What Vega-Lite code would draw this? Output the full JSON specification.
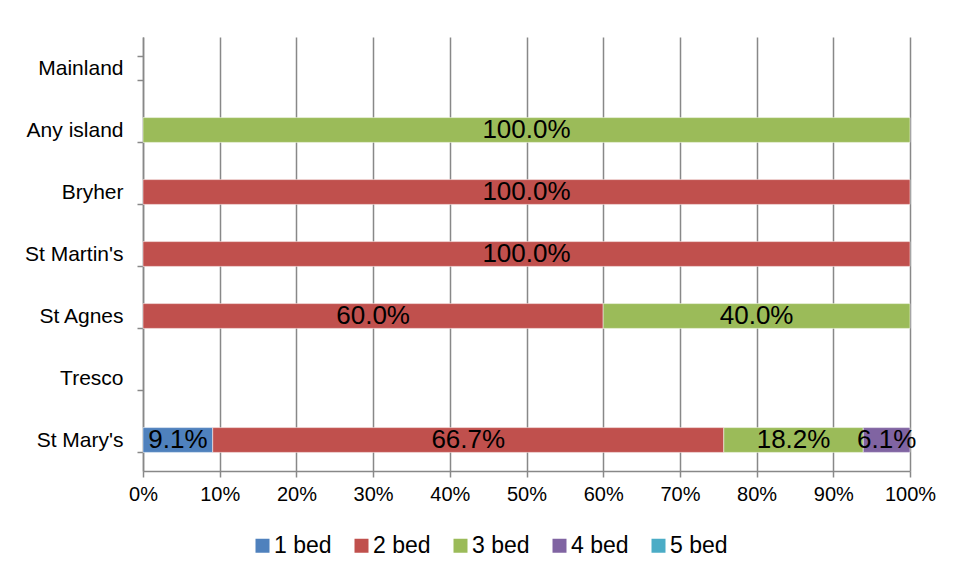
{
  "$schema": "https://vega.github.io/schema/vega-lite/v6.json",
  "width": 767,
  "height": 434,
  "autosize": {"type": "none"},
  "padding": {"left": 143, "top": 37, "right": 43, "bottom": 108},
  "background": "white",
  "config": {
    "font": "Liberation Sans",
    "view": {"stroke": null}
  },
  "data": {
    "values": [
      {"place": "St Mary's", "bed": "1 bed", "share": 0.091},
      {"place": "St Mary's", "bed": "2 bed", "share": 0.667},
      {"place": "St Mary's", "bed": "3 bed", "share": 0.182},
      {"place": "St Mary's", "bed": "4 bed", "share": 0.061},
      {"place": "St Agnes", "bed": "2 bed", "share": 0.6},
      {"place": "St Agnes", "bed": "3 bed", "share": 0.4},
      {"place": "St Martin's", "bed": "2 bed", "share": 1.0},
      {"place": "Bryher", "bed": "2 bed", "share": 1.0},
      {"place": "Any island", "bed": "3 bed", "share": 1.0}
    ]
  },
  "transform": [
    {"stack": "share", "groupby": ["place"], "sort": [{"field": "bed", "order": "ascending"}], "offset": "normalize", "as": ["p0", "p1"]},
    {"calculate": "(datum.p0 + datum.p1) / 2", "as": "pm"}
  ],
  "encoding": {
    "y": {
      "field": "place",
      "type": "nominal",
      "title": null,
      "scale": {
        "domain": ["Mainland", "Any island", "Bryher", "St Martin's", "St Agnes", "Tresco", "St Mary's"],
        "paddingInner": 0.6,
        "paddingOuter": 0.3
      },
      "axis": {
        "tickBand": "extent",
        "domainColor": "#888888",
        "domainWidth": 1.5,
        "tickColor": "#888888",
        "tickWidth": 1.5,
        "tickSize": 6,
        "labelFontSize": 21,
        "labelColor": "#000000",
        "labelPadding": 14,
        "grid": false
      }
    }
  },
  "layer": [
    {
      "mark": {"type": "bar", "stroke": "white", "strokeWidth": 0.5},
      "encoding": {
        "x": {
          "field": "p0",
          "type": "quantitative",
          "title": null,
          "scale": {"domain": [0, 1], "nice": false},
          "axis": {
            "format": ".0%",
            "values": [0, 0.1, 0.2, 0.3, 0.4, 0.5, 0.6, 0.7, 0.8, 0.9, 1],
            "grid": true,
            "gridColor": "#888888",
            "gridWidth": 1.5,
            "domainColor": "#888888",
            "domainWidth": 1.5,
            "tickColor": "#888888",
            "tickWidth": 1.5,
            "tickSize": 6,
            "labelFontSize": 20,
            "labelColor": "#000000",
            "labelPadding": 7,
            "labelFlush": false
          }
        },
        "x2": {"field": "p1"},
        "color": {
          "field": "bed",
          "type": "nominal",
          "title": null,
          "scale": {
            "domain": ["1 bed", "2 bed", "3 bed", "4 bed", "5 bed"],
            "range": ["#4F81BD", "#C0504D", "#9BBB59", "#8064A2", "#4BACC6"]
          },
          "legend": {
            "orient": "none",
            "direction": "horizontal",
            "legendX": 108,
            "legendY": 497,
            "symbolType": "square",
            "symbolSize": 196,
            "symbolStrokeWidth": 0,
            "symbolOpacity": 1,
            "labelFontSize": 23,
            "labelColor": "#000000",
            "labelOffset": 0,
            "columnPadding": 18
          }
        }
      }
    },
    {
      "mark": {"type": "text", "fontSize": 26, "color": "#000000", "align": "center", "baseline": "middle"},
      "encoding": {
        "x": {"field": "pm", "type": "quantitative"},
        "text": {"field": "share", "type": "quantitative", "format": ".1%"}
      }
    }
  ]
}
